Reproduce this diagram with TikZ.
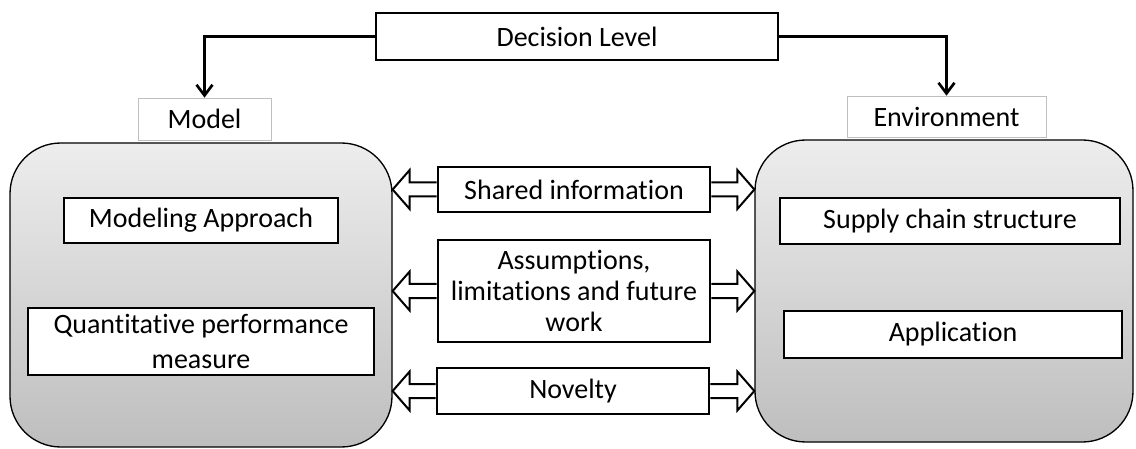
\documentclass[tikz,border=0pt]{standalone}
\usepackage{fontspec}
\setmainfont[Ligatures=NoCommon]{Carlito}
\usetikzlibrary{calc,arrows.meta}
\definecolor{paneltop}{RGB}{237,237,237}
\definecolor{panelbot}{RGB}{190,190,190}
\newdimen\pxu \pxu=0.75pt
% block arrow from a box side (#1) to a tip (#2); #3 = 1 points left, -1 points right
\newcommand\blockarrow[3]{%
  \draw[barrow] ($(#1)+(0,-7)$) -- ($(#2)+(#3*17,-7)$) -- ($(#2)+(#3*17,-19.5)$)
    -- (#2) -- ($(#2)+(#3*17,19.5)$) -- ($(#2)+(#3*17,7)$) -- ($(#1)+(0,7)$);}
\begin{document}
\begin{tikzpicture}[x=0.75pt,y=-0.75pt,
  every node/.style={font=\fontsize{21}{23.5}\selectfont},
  panel/.style={draw=black, line width=1pt, rounded corners=38pt,
    top color=paneltop, bottom color=panelbot},
  tagbox/.style={draw=black!25, line width=0.5pt, fill=white},
  itembox/.style={draw=black, line width=2pt, fill=white, align=center, inner sep=0pt},
  barrow/.style={draw=black, line width=1.5pt, fill=white, line join=miter},
  flow/.style={draw=black, line width=2pt, -{Straight Barb[length=8pt,width=12pt,line width=2pt]}}]
\useasboundingbox (0,0) rectangle (1136,449);

% panels
\node[panel, minimum width=382\pxu, minimum height=304\pxu] (L) at (201,295) {};
\node[panel, minimum width=378\pxu, minimum height=302\pxu] (R) at (944,291) {};

% panel titles
\node[tagbox, minimum width=133\pxu, minimum height=42\pxu] (mlab) at (204.5,119) {Model};
\node[tagbox, minimum width=199\pxu, minimum height=41\pxu] (elab) at (946.5,116.5) {Environment};

% top box and its connectors
\node[itembox, minimum width=402\pxu, minimum height=47\pxu] (dec) at (577,36.5) {Decision Level};
\draw[flow] (dec.west) -| (mlab.north);
\draw[flow] (dec.east) -| (elab.north);

% model items
\node[itembox, minimum width=274\pxu, minimum height=45\pxu] (map) at (201,220.5) {Modeling Approach};
\node[itembox, minimum width=346\pxu, minimum height=67\pxu,
  font=\fontsize{21}{26}\selectfont] (qpm) at (201,341.5) {Quantitative performance\\measure};

% environment items
\node[itembox, minimum width=340\pxu, minimum height=46\pxu] (scs) at (950,221) {Supply chain structure};
\node[itembox, minimum width=338\pxu, minimum height=47\pxu] (app) at (953,334.5) {Application};

% shared items between the panels
\node[itembox, minimum width=272\pxu, minimum height=45\pxu] (shi) at (574,189.5) {Shared information};
\node[itembox, minimum width=272\pxu, minimum height=102\pxu] (asm) at (574,291)
  {Assumptions,\\limitations and future\\work};
\node[itembox, minimum width=272\pxu, minimum height=46\pxu] (nov) at (573,391) {Novelty};

% block arrows towards both panels
\blockarrow{shi.west}{shi.west -| L.east}{1}
\blockarrow{shi.east}{shi.east -| R.west}{-1}
\blockarrow{asm.west}{asm.west -| L.east}{1}
\blockarrow{asm.east}{asm.east -| R.west}{-1}
\blockarrow{nov.west}{nov.west -| L.east}{1}
\blockarrow{nov.east}{nov.east -| R.west}{-1}
\end{tikzpicture}
\end{document}
